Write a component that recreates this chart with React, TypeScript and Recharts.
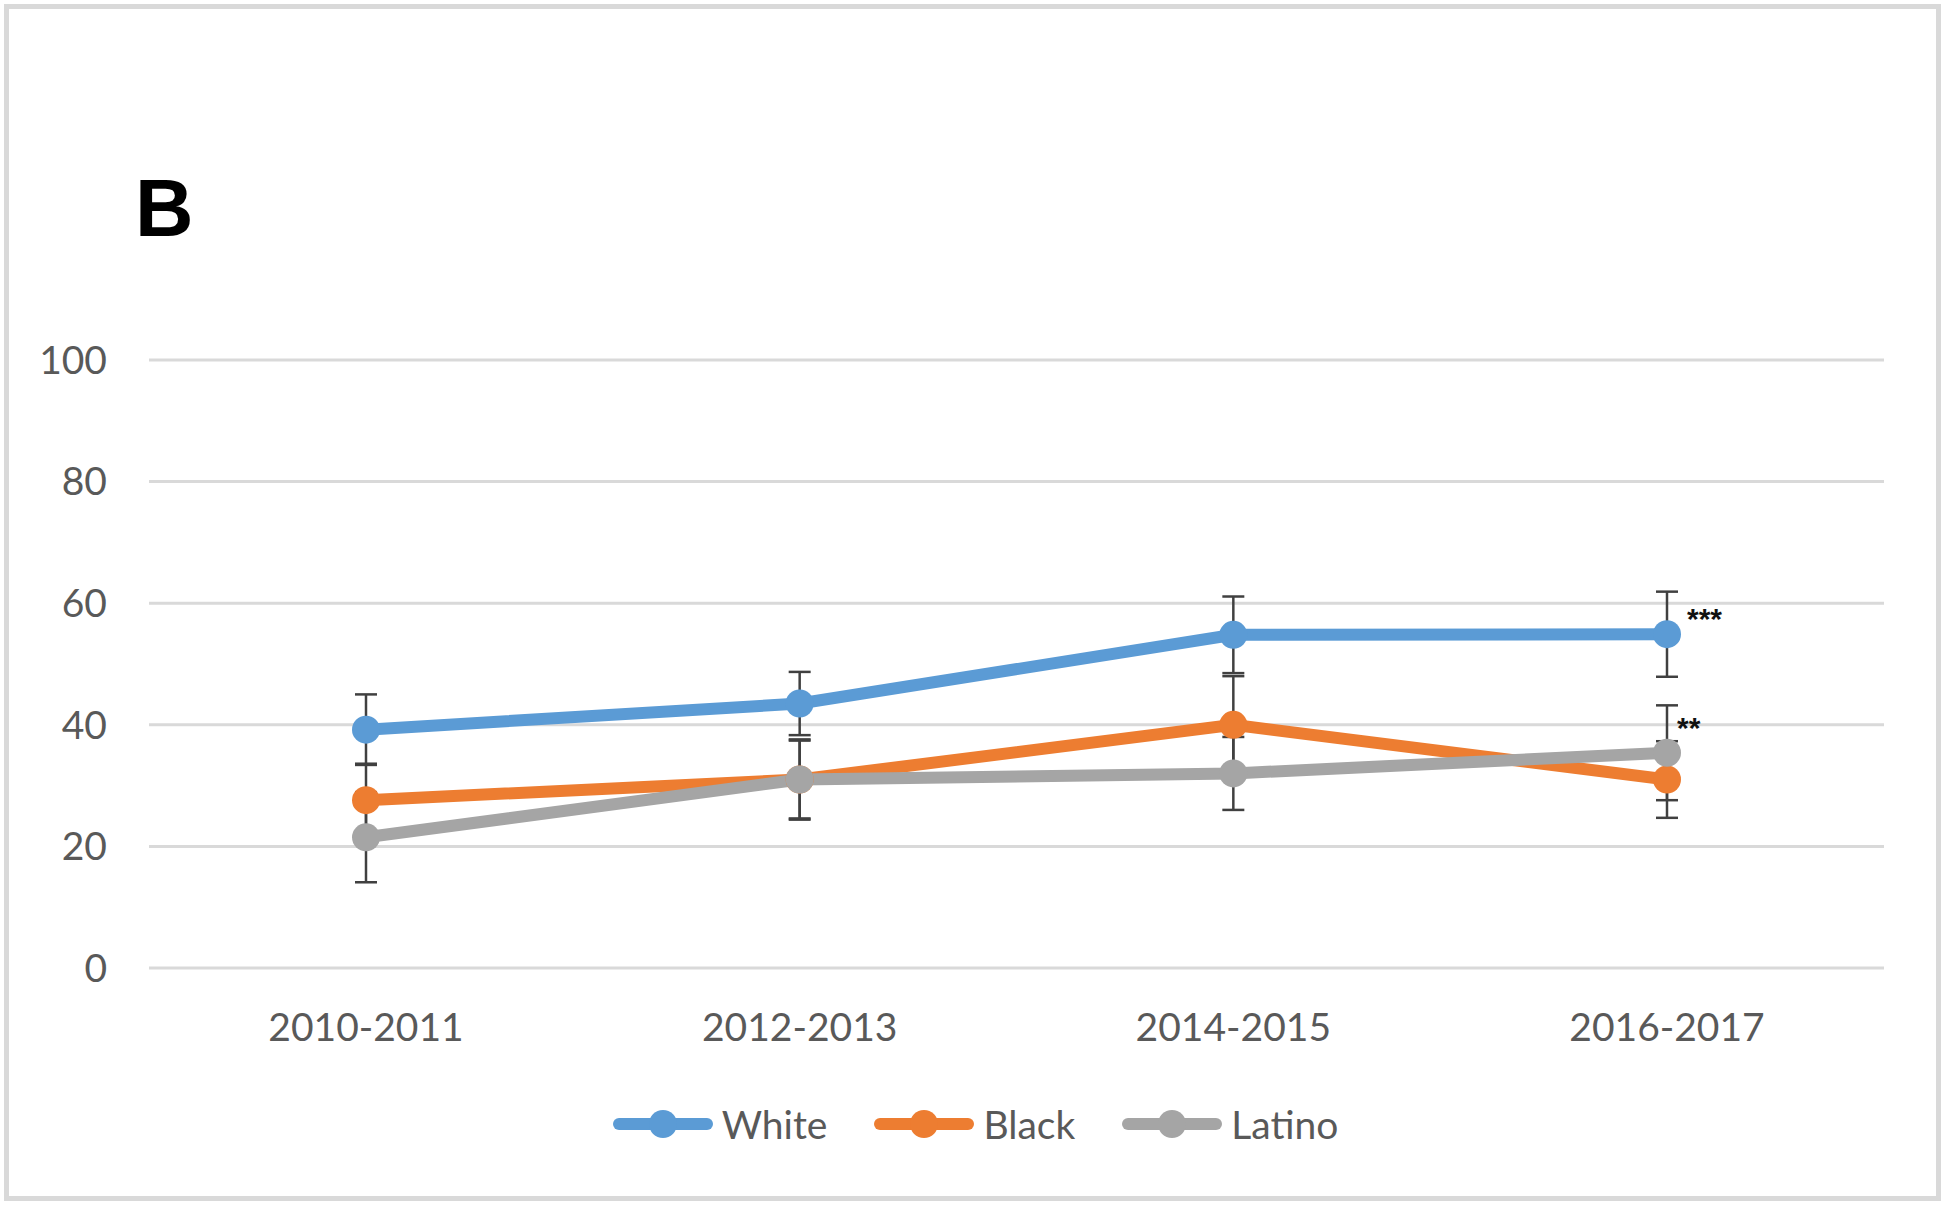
import React from 'react';
import { LineChart, Line, XAxis, YAxis, CartesianGrid, ErrorBar, LabelList } from 'recharts';

const categories = ['2010-2011', '2012-2013', '2014-2015', '2016-2017'];
const white = [39.2, 43.5, 54.8, 54.9];
const whiteErr = [5.8, 5.2, 6.3, 7.0];
const black = [27.6, 31.0, 40.0, 31.0];
const blackErr = [6.0, 6.6, 8.0, 6.3];
const latino = [21.5, 31.0, 32.0, 35.4];
const latinoErr = [7.4, 6.4, 6.0, 7.8];
const whiteNotes = ['', '', '', '***'];
const latinoNotes = ['', '', '', '**'];
const yTicks = [0, 20, 40, 60, 80, 100];

const data = categories.map((c, i) => ({
  period: c,
  White: white[i],
  whiteErr: whiteErr[i],
  whiteNote: whiteNotes[i],
  Black: black[i],
  blackErr: blackErr[i],
  Latino: latino[i],
  latinoErr: latinoErr[i],
  latinoNote: latinoNotes[i],
}));

const series = [
  { key: 'White', err: 'whiteErr', color: '#5b9bd5' },
  { key: 'Black', err: 'blackErr', color: '#ed7d31' },
  { key: 'Latino', err: 'latinoErr', color: '#a5a5a5' },
];

const textColor = '#595959';
const tickFont = 'Lato, "Open Sans", sans-serif';

const noteRenderer = (dx: number, dy: number) => (props: any) => {
  const { x, y, value } = props;
  if (!value) return null;
  return (
    <text x={x + dx} y={y + dy} fontFamily='"Liberation Sans", Arial, sans-serif' fontWeight="bold" fontSize={30} fill="#111">
      {value}
    </text>
  );
};

const LegendRow = () => (
  <div
    style={{
      position: 'absolute',
      left: 0,
      top: 1099,
      width: 1950,
      height: 50,
      display: 'flex',
      justifyContent: 'center',
      alignItems: 'center',
      gap: 46,
      fontFamily: tickFont,
      fontSize: 39,
      color: textColor,
    }}
  >
    {series.map((s) => (
      <div key={s.key} style={{ display: 'flex', alignItems: 'center' }}>
        <svg width={102} height={32} style={{ marginRight: 8 }}>
          <line x1={7} y1={16} x2={95} y2={16} stroke={s.color} strokeWidth={12} strokeLinecap="round" />
          <circle cx={51} cy={16} r={14} fill={s.color} />
        </svg>
        <span>{s.key}</span>
      </div>
    ))}
  </div>
);

const App: React.FC = () => {
  return (
    <div style={{ position: 'absolute', left: 0, top: 0, width: 1950, height: 1208, background: '#fff' }}>
      <div
        style={{
          position: 'absolute',
          left: 4,
          top: 4,
          width: 1937,
          height: 1197,
          border: '5px solid #d9d9d9',
          boxSizing: 'border-box',
        }}
      />
      <div
        style={{
          position: 'absolute',
          left: 135,
          top: 168,
          fontFamily: '"Liberation Sans", Arial, sans-serif',
          fontWeight: 'bold',
          fontSize: 81,
          lineHeight: 1,
          color: '#000',
        }}
      >
        B
      </div>
      <div style={{ position: 'absolute', left: 0, top: 0 }}>
        <LineChart width={1950} height={1208} data={data} margin={{ top: 360, right: 66, left: 0, bottom: 160 }}>
          <CartesianGrid vertical={false} stroke="#d9d9d9" strokeWidth={3} />
          <XAxis
            dataKey="period"
            axisLine={false}
            tickLine={false}
            tickMargin={39}
            height={80}
            padding={{ left: 217, right: 217 }}
            tick={{ fill: textColor, fontSize: 39, fontFamily: tickFont }}
          />
          <YAxis
            width={149}
            domain={[0, 100]}
            ticks={yTicks}
            axisLine={false}
            tickLine={false}
            tickMargin={36}
            tick={{ fill: textColor, fontSize: 39, fontFamily: tickFont }}
          />
          {series.map((s) => (
            <Line
              key={s.key}
              type="linear"
              dataKey={s.key}
              stroke={s.color}
              strokeWidth={12}
              dot={{ r: 14, fill: s.color, stroke: s.color, strokeWidth: 0 }}
              activeDot={false}
              isAnimationActive={false}
            >
              <ErrorBar dataKey={s.err} direction="y" width={11} strokeWidth={2.5} stroke="#404040" />
              {s.key === 'White' && <LabelList dataKey="whiteNote" content={noteRenderer(20, -5)} />}
              {s.key === 'Latino' && <LabelList dataKey="latinoNote" content={noteRenderer(10, -15)} />}
            </Line>
          ))}
        </LineChart>
      </div>
      <LegendRow />
    </div>
  );
};

export default App;
